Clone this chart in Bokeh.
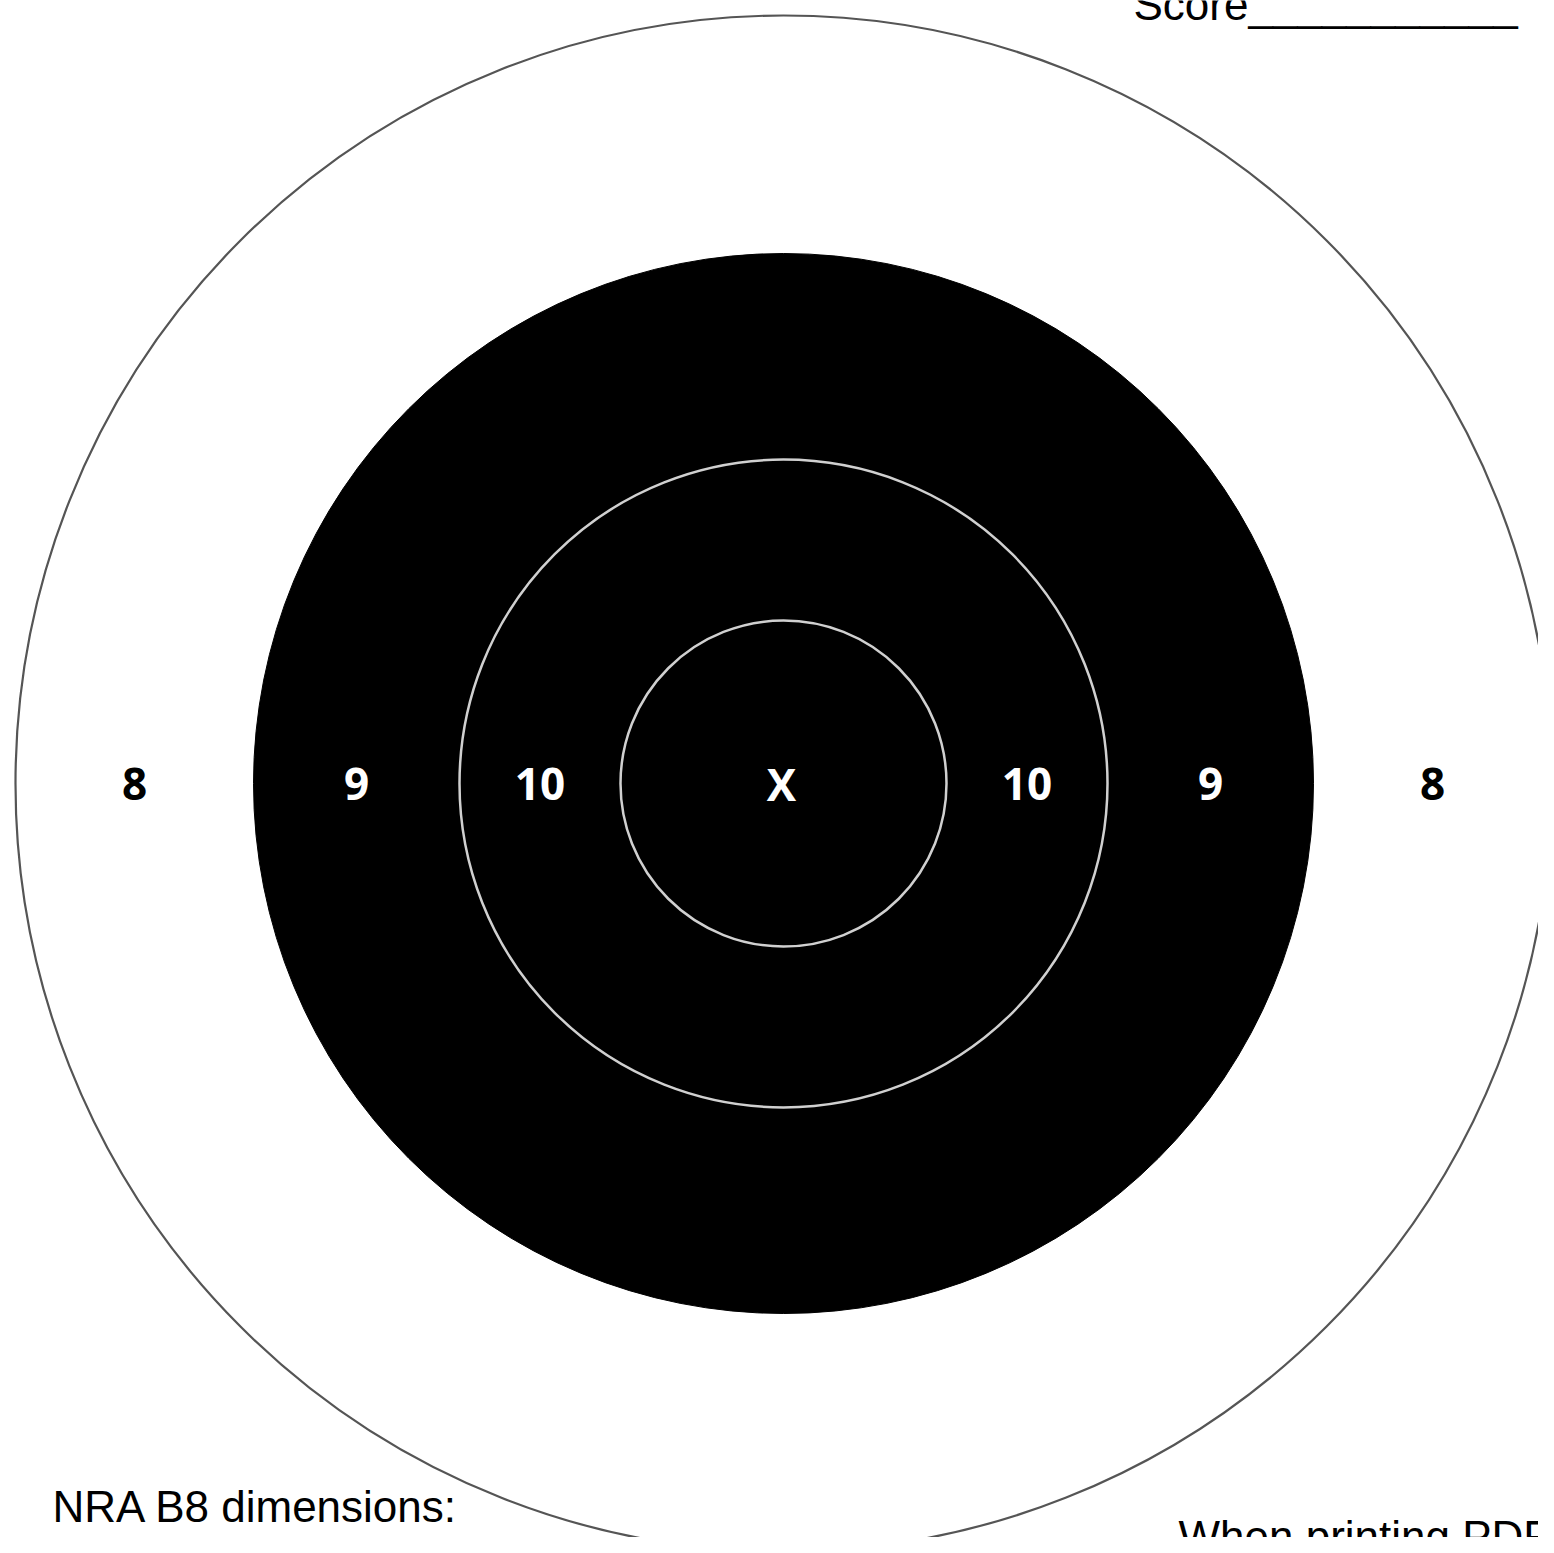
from bokeh.plotting import figure
from bokeh.models import Range1d
from bokeh.embed import file_html
from bokeh.resources import INLINE
from bokeh.core.properties import value

# Ring data (radii, in pixels)
ring_scores = ["8", "9", "10", "X"]
ring_radii = [768, 530, 324, 163]

score_text = "Score" + "_" * 11
note_title = "NRA B8 dimensions:"
note_line2 = 'X - 1.60"'
print_note = "When printing PDF"

W, H = 1538, 1537
CX, CY = 783, 783  # target centre in picture pixels
DY = 16  # baseline correction for text

p = figure(width=W, height=H, output_backend="svg", toolbar_location=None,
           x_range=Range1d(-CX, W - CX), y_range=Range1d(CY - H, CY),
           min_border=0)
p.axis.visible = False
p.grid.visible = False
p.outline_line_color = None
p.background_fill_color = "white"
p.border_fill_color = "white"

# rings
p.circle(x=[0], y=[0], radius=[ring_radii[0]], fill_color="white",
         line_color="#555555", line_width=2.2)
p.circle(x=[0], y=[0], radius=[ring_radii[1]], fill_color="black",
         line_color="black", line_width=1)
p.circle(x=[0, 0], y=[0, 0], radius=ring_radii[2:], fill_color=None,
         line_color="#d0d0d0", line_width=2.5)

# score labels: placed midway between consecutive ring radii, both sides
lab_x, lab_t, lab_c = [], [], []
for i, s in enumerate(ring_scores):
    outer = ring_radii[i]
    inner = ring_radii[i + 1] if i + 1 < len(ring_radii) else 0
    mid = (outer + inner) / 2
    col = "black" if i == 0 else "white"
    if inner == 0:
        lab_x.append(-2); lab_t.append(s); lab_c.append(col)
    else:
        for sign in (-1, 1):
            lab_x.append(sign * mid); lab_t.append(s); lab_c.append(col)

p.text(x=lab_x, y=[0] * len(lab_x), text=lab_t, text_color=lab_c,
       text_font=value("Open Sans"), text_font_style="bold",
       text_font_size="44px", text_align="center", text_baseline="middle")

font = value("Liberation Sans")
p.text(x=[1133 - CX], y=[CY - 20 + DY], text=[score_text], text_font=font,
       text_font_size="44px", text_color="black", text_align="left",
       text_baseline="alphabetic")
p.text(x=[52 - CX, 170 - CX], y=[CY - 1522 + DY, CY - 1572 + DY],
       text=[note_title, note_line2],
       text_font=font, text_font_size="44px", text_color="black",
       text_align="left", text_baseline="alphabetic")
p.text(x=[1178 - CX], y=[CY - 1552 + DY], text=[print_note], text_font=font,
       text_font_size="44px", text_color="black", text_align="left",
       text_baseline="alphabetic")

open("out.html", "w").write(file_html(p, INLINE))
